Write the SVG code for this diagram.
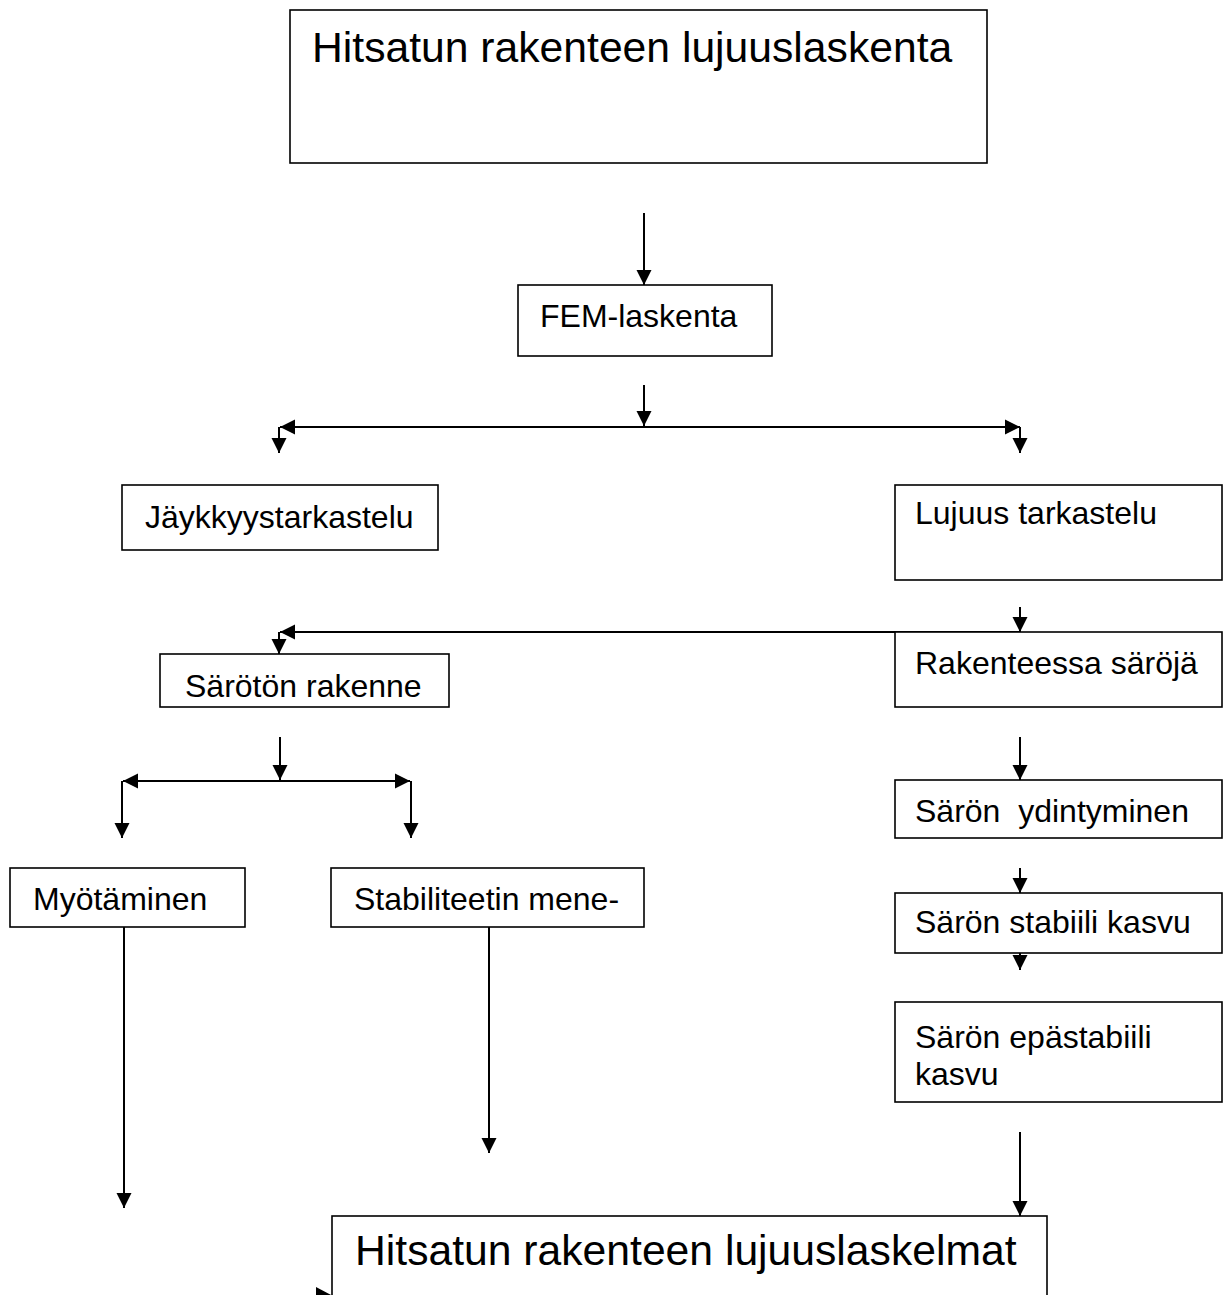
<svg xmlns="http://www.w3.org/2000/svg" width="1224" height="1295" viewBox="0 0 1224 1295">
<style>
.box{fill:#fff;stroke:#000;stroke-width:1.6}
.t{font-family:"Liberation Sans",Arial,sans-serif;font-size:32px;fill:#000}
.big{font-size:42.67px}
.c{fill:none;stroke:#000;stroke-width:2}
.a{marker-end:url(#ah)}
</style>
<defs>
<marker id="ah" markerUnits="userSpaceOnUse" markerWidth="16" markerHeight="16" refX="15" refY="7.5" orient="auto" viewBox="0 0 16 15">
<path d="M0,0 L15,7.5 L0,15 Z" fill="#000"/>
</marker>
</defs>
<rect width="1224" height="1295" fill="#fff"/>
<g id="connectors">
<line class="c a" x1="644" y1="213" x2="644" y2="285"/>
<line class="c a" x1="644" y1="385" x2="644" y2="426"/>
<line class="c a" x1="644" y1="427" x2="280" y2="427"/>
<line class="c a" x1="644" y1="427" x2="1020" y2="427"/>
<line class="c a" x1="279" y1="427" x2="279" y2="453"/>
<line class="c a" x1="1020" y1="427" x2="1020" y2="453"/>
<line class="c a" x1="1020" y1="607" x2="1020" y2="632"/>
<line class="c a" x1="1020" y1="632" x2="280" y2="632"/>
<line class="c a" x1="279" y1="632" x2="279" y2="654"/>
<line class="c a" x1="280" y1="737" x2="280" y2="780"/>
<line class="c a" x1="280" y1="781" x2="123" y2="781"/>
<line class="c a" x1="280" y1="781" x2="410" y2="781"/>
<line class="c a" x1="122" y1="781" x2="122" y2="838"/>
<line class="c a" x1="411" y1="781" x2="411" y2="838"/>
<line class="c a" x1="1020" y1="737" x2="1020" y2="780"/>
<line class="c a" x1="1020" y1="868" x2="1020" y2="893"/>
<line class="c a" x1="1020" y1="953" x2="1020" y2="970"/>
<line class="c a" x1="1020" y1="1132" x2="1020" y2="1216"/>
<line class="c a" x1="489" y1="927" x2="489" y2="1153"/>
<line class="c a" x1="124" y1="927" x2="124" y2="1208"/>
<polygon points="316,1287 333,1296 316,1305" fill="#000"/>
</g>
<g id="n-top"><rect class="box" x="290" y="10" width="697" height="153"/><text class="t big" x="312" y="62">Hitsatun rakenteen lujuuslaskenta</text></g>
<g id="n-fem"><rect class="box" x="518" y="285" width="254" height="71"/><text class="t" x="540" y="327">FEM-laskenta</text></g>
<g id="n-jaykkyys"><rect class="box" x="122" y="485" width="316" height="65"/><text class="t" x="145" y="528">Jäykkyystarkastelu</text></g>
<g id="n-lujuus"><rect class="box" x="895" y="485" width="327" height="95"/><text class="t" x="915" y="524">Lujuus tarkastelu</text></g>
<g id="n-rakenteessa"><rect class="box" x="895" y="632" width="327" height="75"/><text class="t" x="915" y="674">Rakenteessa säröjä</text></g>
<g id="n-sarоton"><rect class="box" x="160" y="654" width="289" height="53"/><text class="t" x="185" y="697">Särötön rakenne</text></g>
<g id="n-ydintyminen"><rect class="box" x="895" y="780" width="327" height="58"/><text class="t" x="915" y="822" xml:space="preserve">Särön  ydintyminen</text></g>
<g id="n-myotaminen"><rect class="box" x="10" y="868" width="235" height="59"/><text class="t" x="33" y="910">Myötäminen</text></g>
<g id="n-stabiliteetti"><rect class="box" x="331" y="868" width="313" height="59"/><text class="t" x="354" y="910">Stabiliteetin mene-</text></g>
<g id="n-stabiili"><rect class="box" x="895" y="893" width="327" height="60"/><text class="t" x="915" y="933">Särön stabiili kasvu</text></g>
<g id="n-epastabiili"><rect class="box" x="895" y="1002" width="327" height="100"/><text class="t" x="915" y="1048">Särön epästabiili</text><text class="t" x="915" y="1085">kasvu</text></g>
<g id="n-bottom"><rect class="box" x="332" y="1216" width="715" height="100"/><text class="t big" x="355" y="1265">Hitsatun rakenteen lujuuslaskelmat</text></g>
</svg>
